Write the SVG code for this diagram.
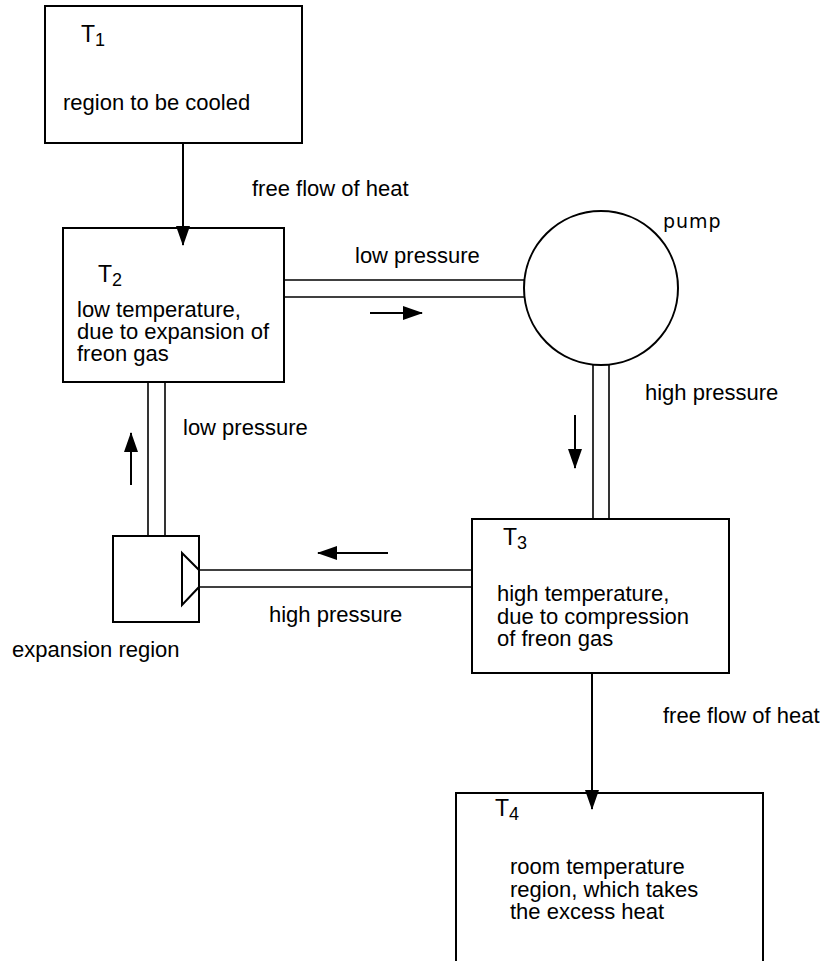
<svg xmlns="http://www.w3.org/2000/svg" width="820" height="961" viewBox="0 0 820 961">
<style>
  .box { fill: #fff; stroke: #000; stroke-width: 2; }
  .pipe { stroke: #000; stroke-width: 1.6; fill: none; }
  .arr { stroke: #000; stroke-width: 2; fill: none; marker-end: url(#ah); }
  text { font-family: "Liberation Sans", Arial, Helvetica, sans-serif; font-size: 22px; fill: #000; }
  .tl { font-size: 23px; }
  .sub { font-size: 18px; }
  .pump { font-family: "DejaVu Sans", Verdana, sans-serif; font-size: 19px; letter-spacing: 1px; }
</style>
<defs>
  <marker id="ah" markerUnits="userSpaceOnUse" markerWidth="20" markerHeight="14" refX="19" refY="7" orient="auto">
    <path d="M0,0 L20,7 L0,14 z" fill="#000"/>
  </marker>
</defs>
<rect x="0" y="0" width="820" height="961" fill="#fff"/>

<g id="T1">
  <rect class="box" x="45" y="6" width="257" height="137"/>
  <text class="tl" x="81" y="42">T<tspan class="sub" dy="3.5">1</tspan></text>
  <text x="63" y="110">region to be cooled</text>
</g>

<g id="T2">
  <rect class="box" x="63" y="228" width="221" height="154"/>
  <text class="tl" x="98" y="282">T<tspan class="sub" dy="3.5">2</tspan></text>
  <text x="77" y="317">low temperature,</text>
  <text x="77" y="339">due to expansion of</text>
  <text x="77" y="361">freon gas</text>
</g>

<g id="pump">
  <circle class="box" cx="601" cy="288" r="77"/>
  <text class="pump" x="663" y="228">pump</text>
</g>

<g id="expansion">
  <rect class="box" x="113" y="536" width="86" height="86"/>
  <polygon points="182,553 199,570 199,587 182,605" fill="#fff" stroke="#000" stroke-width="2"/>
  <text x="12" y="657">expansion region</text>
</g>

<g id="T3">
  <rect class="box" x="472" y="519" width="257" height="154"/>
  <text class="tl" x="503" y="545">T<tspan class="sub" dy="3.5">3</tspan></text>
  <text x="497" y="601">high temperature,</text>
  <text x="497" y="623.5">due to compression</text>
  <text x="497" y="646">of freon gas</text>
</g>

<g id="T4">
  <rect class="box" x="456" y="793" width="307" height="200"/>
  <text class="tl" x="495" y="816">T<tspan class="sub" dy="3.5">4</tspan></text>
  <text x="510" y="874">room temperature</text>
  <text x="510" y="897">region, which takes</text>
  <text x="510" y="919">the excess heat</text>
</g>

<g id="connectors">
  <!-- heat flow T1 -> T2 -->
  <line class="arr" x1="183" y1="143" x2="183" y2="245"/>
  <!-- heat flow T3 -> T4 -->
  <line class="arr" x1="592" y1="673" x2="592" y2="809"/>
  <!-- pipe T2 -> pump -->
  <line class="pipe" x1="284" y1="280" x2="525" y2="280"/>
  <line class="pipe" x1="284" y1="297" x2="525" y2="297"/>
  <!-- pipe pump -> T3 -->
  <line class="pipe" x1="593" y1="364.5" x2="593" y2="519"/>
  <line class="pipe" x1="609" y1="364.5" x2="609" y2="519"/>
  <!-- pipe T3 -> expansion -->
  <line class="pipe" x1="199" y1="570" x2="472" y2="570"/>
  <line class="pipe" x1="199" y1="587" x2="472" y2="587"/>
  <!-- pipe expansion -> T2 -->
  <line class="pipe" x1="148" y1="382" x2="148" y2="536"/>
  <line class="pipe" x1="165" y1="382" x2="165" y2="536"/>
  <!-- flow arrows -->
  <line class="arr" x1="370" y1="313" x2="422" y2="313"/>
  <line class="arr" x1="575" y1="415" x2="575" y2="468"/>
  <line class="arr" x1="388" y1="553" x2="318" y2="553"/>
  <line class="arr" x1="131" y1="485" x2="131" y2="433"/>
  <!-- labels -->
  <text x="252" y="196">free flow of heat</text>
  <text x="355" y="263">low pressure</text>
  <text x="645" y="400">high pressure</text>
  <text x="183" y="435">low pressure</text>
  <text x="269" y="622">high pressure</text>
  <text x="663" y="723">free flow of heat</text>
</g>
</svg>
